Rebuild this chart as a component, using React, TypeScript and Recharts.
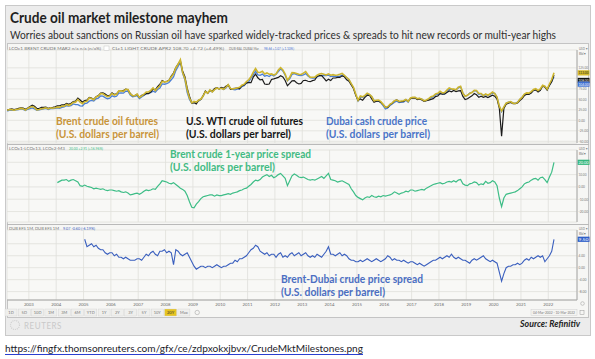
import { CartesianGrid, Line, LineChart, ReferenceLine, XAxis, YAxis } from "recharts";

// x axis: decimal years, monthly points placed mid-month
const X0 = 2002.2;
const X1 = 2023.05;
const YEARS = [2003, 2004, 2005, 2006, 2007, 2008, 2009, 2010, 2011, 2012, 2013, 2014, 2015, 2016, 2017, 2018, 2019, 2020, 2021, 2022];

// U.S. dollars per barrel, monthly from Mar 2002 to Mar 2022
const BRENT = [
  23.7, 25.7, 25.4, 24.1, 25.7, 26.7, 28.3, 27.5, 24.3, 28.2,
  31.2, 32.8, 30.3, 25.0, 25.8, 27.6, 28.4, 29.8, 27.1, 29.6, 28.8, 29.8,
  31.3, 30.9, 33.8, 33.4, 37.9, 35.2, 38.2, 42.7, 43.2, 49.8, 43.1, 39.6,
  44.3, 45.5, 53.1, 51.9, 49.0, 55.6, 57.9, 63.9, 63.2, 59.4, 56.2, 57.6,
  63.9, 60.1, 62.1, 70.3, 70.0, 68.9, 73.6, 73.2, 62.8, 58.7, 58.5, 62.3,
  54.3, 57.8, 62.1, 67.4, 67.5, 71.3, 77.2, 70.8, 77.1, 82.3, 92.5, 91.5,
  91.9, 94.8, 103.3, 110.4, 124.6, 133.5, 144.0, 113.9, 99.1, 72.8, 53.2, 41.6,
  44.9, 43.4, 47.7, 50.6, 57.9, 68.6, 64.9, 72.5, 67.7, 73.2, 77.0, 74.7,
  76.2, 73.8, 78.8, 84.8, 75.9, 74.8, 75.6, 77.1, 78.4, 83.5, 86.1, 92.4,
  96.5, 103.7, 114.6, 123.3, 114.5, 113.9, 116.7, 110.4, 112.8, 109.6, 110.5, 107.9,
  110.6, 119.7, 125.5, 119.8, 110.3, 95.2, 102.6, 113.4, 113.0, 111.5, 109.5, 109.2,
  112.3, 116.1, 108.5, 102.3, 102.6, 102.9, 107.4, 110.3, 111.2, 109.5, 107.8, 110.6,
  107.4, 108.8, 107.4, 107.8, 109.7, 111.9, 106.9, 101.9, 97.3, 87.3, 78.4, 62.3,
  47.8, 58.1, 55.9, 59.5, 64.6, 61.7, 56.5, 46.5, 47.6, 48.4, 44.3, 38.0,
  30.7, 32.2, 38.2, 41.6, 46.7, 48.3, 44.9, 45.8, 46.6, 49.5, 44.7, 53.3,
  54.6, 54.9, 51.6, 52.3, 50.3, 46.4, 48.5, 51.7, 56.2, 57.6, 62.7, 64.4,
  69.1, 65.3, 66.0, 72.1, 76.9, 74.4, 74.3, 72.5, 78.9, 81.0, 64.8, 57.4,
  59.4, 63.9, 66.1, 71.2, 71.1, 64.0, 63.9, 59.0, 62.8, 59.7, 63.2, 67.3,
  63.7, 55.5, 33.7, 22.0, 32.1, 40.8, 43.2, 44.7, 40.9, 40.2, 42.7, 49.9,
  54.8, 62.3, 65.4, 64.8, 68.5, 73.2, 75.1, 70.8, 74.5, 83.5, 81.1, 74.2,
  86.5, 97.1, 113.0,
];

const WTI = [
  24.4, 26.3, 27.0, 25.5, 26.9, 28.4, 29.7, 28.9, 26.3, 29.4,
  32.9, 35.9, 33.6, 28.3, 28.1, 30.7, 30.8, 31.6, 28.3, 30.3, 31.1, 32.2,
  34.3, 34.7, 36.7, 36.7, 40.3, 38.0, 40.7, 44.9, 45.9, 53.1, 48.5, 43.3,
  46.8, 48.0, 54.3, 53.0, 49.8, 56.3, 58.7, 65.0, 65.6, 62.4, 58.3, 59.4,
  65.5, 61.6, 62.9, 69.7, 70.9, 71.0, 74.4, 73.0, 63.8, 58.9, 59.1, 62.0,
  54.5, 59.3, 60.4, 63.9, 63.5, 67.5, 74.1, 72.4, 79.9, 85.8, 94.8, 91.7,
  93.0, 95.4, 105.5, 112.6, 125.4, 133.9, 142.0, 116.7, 104.1, 76.6, 57.3, 41.1,
  41.7, 39.1, 47.9, 49.6, 59.0, 69.6, 64.2, 71.1, 69.4, 75.7, 78.0, 74.5,
  78.3, 76.4, 81.2, 84.3, 73.7, 75.3, 76.3, 76.6, 75.2, 81.9, 84.3, 89.2,
  89.6, 89.6, 102.9, 110.0, 101.3, 96.3, 97.3, 86.3, 85.5, 86.3, 97.2, 98.6,
  100.3, 102.2, 106.2, 103.3, 94.7, 82.3, 87.9, 94.1, 94.5, 89.5, 86.5, 87.9,
  94.8, 95.3, 92.9, 92.0, 94.5, 95.8, 104.6, 106.6, 106.3, 100.5, 93.9, 97.6,
  94.6, 100.8, 100.8, 102.1, 102.2, 105.8, 103.6, 96.5, 93.2, 84.4, 75.8, 59.3,
  47.2, 50.6, 47.8, 54.5, 59.3, 59.8, 50.9, 42.9, 45.5, 46.2, 42.7, 37.2,
  31.7, 30.3, 37.5, 40.8, 46.7, 48.8, 44.7, 44.7, 45.2, 49.8, 45.7, 52.0,
  52.5, 53.5, 49.3, 51.1, 48.5, 45.2, 46.6, 48.0, 49.8, 51.6, 56.6, 57.9,
  63.7, 62.2, 62.7, 66.3, 70.0, 67.9, 71.0, 68.1, 70.2, 70.8, 57.0, 49.5,
  51.4, 55.0, 58.2, 63.9, 60.8, 54.7, 57.4, 54.8, 57.0, 54.0, 57.0, 59.9,
  57.5, 50.5, 29.2, -37.6, 28.5, 38.3, 40.7, 42.3, 39.6, 39.4, 41.4, 47.0,
  52.0, 59.0, 62.3, 61.7, 65.2, 71.4, 72.5, 67.7, 71.6, 81.5, 79.2, 71.7,
  83.2, 91.6, 108.0,
];

const DUBAI = [
  22.1, 24.0, 24.2, 23.5, 24.8, 25.5, 27.2, 25.9, 23.5, 26.3,
  28.0, 29.4, 27.0, 23.6, 24.6, 26.3, 27.1, 28.2, 25.5, 27.6, 27.6, 28.5,
  29.7, 28.8, 31.0, 31.8, 34.6, 34.0, 34.8, 39.0, 37.2, 37.5, 34.5, 34.0,
  40.0, 41.0, 45.6, 47.4, 45.8, 51.2, 53.0, 57.9, 57.5, 54.0, 51.4, 52.7,
  58.6, 56.0, 57.2, 64.8, 65.0, 64.6, 69.2, 69.4, 60.0, 56.2, 57.0, 58.9,
  51.9, 55.8, 59.0, 63.2, 65.0, 66.0, 69.5, 67.0, 73.2, 77.0, 86.7, 85.9,
  87.5, 90.0, 96.5, 103.4, 118.4, 128.0, 138.0, 111.8, 95.6, 66.3, 49.6, 40.5,
  43.9, 43.1, 45.6, 50.1, 57.5, 69.4, 64.9, 71.2, 67.7, 73.2, 76.6, 75.4,
  76.7, 73.5, 77.0, 83.7, 76.2, 73.9, 72.5, 74.2, 74.8, 80.4, 82.5, 88.4,
  92.0, 100.2, 108.7, 117.2, 108.1, 107.0, 110.1, 105.1, 106.9, 104.3, 108.4, 105.5,
  109.4, 116.2, 122.5, 117.3, 107.5, 94.4, 99.0, 109.4, 111.4, 108.8, 106.9, 106.3,
  107.9, 111.1, 105.6, 101.6, 100.4, 100.3, 103.4, 106.0, 106.9, 106.2, 106.6, 107.7,
  104.0, 105.0, 104.4, 104.7, 104.7, 107.8, 105.5, 101.7, 96.6, 86.6, 76.4, 60.2,
  45.9, 55.8, 54.7, 57.6, 62.6, 61.3, 56.1, 47.8, 45.4, 46.1, 41.8, 35.2,
  26.9, 29.4, 35.2, 39.1, 43.2, 45.7, 42.5, 43.5, 43.3, 47.9, 43.2, 51.9,
  53.5, 54.5, 50.7, 52.0, 50.5, 46.1, 47.6, 50.2, 54.0, 55.6, 60.4, 61.5,
  66.2, 62.7, 62.7, 68.3, 74.3, 73.6, 73.1, 72.5, 77.2, 79.4, 65.6, 57.3,
  59.1, 65.1, 66.6, 70.7, 69.4, 61.7, 63.3, 59.2, 61.1, 59.4, 61.9, 64.9,
  64.3, 54.2, 33.6, 20.4, 30.5, 40.8, 43.2, 44.0, 41.5, 40.7, 43.4, 49.8,
  54.8, 60.7, 62.8, 62.7, 66.0, 71.6, 72.9, 69.5, 72.6, 81.7, 80.3, 73.2,
  83.5, 92.4, 104.0,
];

// Brent 1-year spread, monthly from Jan 2004
const BRENT_1Y = [
  3.5, 4.5, 5.5, 5.5, 6.0, 4.5, 5.5, 6.0, 5.0, 4.0, 1.0, 0.5,
  1.5, 0.5, 0.0, -0.5, -1.5, -1.0, -1.5, -2.0, -1.5, -2.5, -3.0, -2.5,
  -2.5, -3.0, -3.5, -3.0, -4.0, -4.5, -4.0, -5.0, -6.5, -6.0, -5.5, -5.0,
  -6.0, -5.0, -3.5, -2.5, -3.0, -2.5, -1.5, -2.0, 0.5, 2.5, 5.0, 4.5,
  4.0, 3.0, 2.5, 3.5, 2.0, 0.5, -1.0, -2.0, -3.5, -7.0, -12.0, -16.5,
  -17.0, -14.0, -12.0, -9.5, -8.0, -7.5, -7.0, -6.5, -6.5, -7.5, -6.5, -7.0,
  -7.0, -6.5, -6.0, -5.5, -6.0, -5.0, -4.5, -4.0, -3.0, -2.5, -1.5, -1.0,
  0.5, 2.0, 4.0, 5.5, 5.0, 6.0, 8.0, 9.0, 10.0, 8.5, 9.5, 7.5,
  8.5, 10.0, 11.0, 9.0, 7.0, 1.0, 5.0, 9.0, 10.5, 9.5, 8.0, 7.5,
  8.0, 7.0, 6.0, 5.5, 6.0, 5.5, 6.5, 7.5, 8.5, 7.0, 9.0, 11.0,
  6.0, 5.5, 5.0, 4.0, 4.5, 5.0, 4.0, 3.0, 2.0, -1.5, -4.0, -7.0,
  -8.5, -9.5, -10.5, -9.0, -8.0, -8.5, -7.0, -8.0, -8.5, -7.5, -8.0, -7.0,
  -7.5, -7.0, -6.5, -5.5, -4.0, -5.0, -6.0, -5.0, -4.5, -3.5, -4.0, -2.5,
  -2.5, -3.5, -3.0, -2.5, -2.0, -2.5, -1.0, 0.0, 1.0, 2.0, 2.5, 3.0,
  3.5, 2.5, 3.0, 4.0, 4.5, 4.0, 5.0, 4.0, 5.5, 6.0, 2.5, 1.5,
  1.0, 2.5, 3.0, 4.0, 3.5, 1.5, 2.5, 2.0, 4.5, 3.0, 3.5, 5.0,
  4.0, 1.0, -9.0, -16.0, -9.0, -6.0, -5.5, -5.0, -4.5, -4.0, -3.0, -1.5,
  0.0, 2.5, 3.5, 4.0, 5.5, 6.5, 7.0, 5.5, 7.5, 8.0, 6.0, 3.5,
  8.0, 12.0, 20.0,
];

// Brent-Dubai EFS, monthly from Jan 2005
const BRENT_DUBAI = [
  9.5, 7.0, 7.5, 8.0, 7.0, 7.5, 6.5, 6.0, 6.0, 5.0, 4.5, 5.0,
  5.0, 4.0, 4.5, 3.5, 3.5, 3.0, 3.5, 3.0, 2.5, 2.5, 2.5, 3.0,
  3.0, 2.5, 3.5, 4.5, 4.0, 5.0, 5.5, 4.5, 4.0, 5.5, 5.5, 6.0,
  5.0, 5.5, 5.0, 1.0, 6.0, 5.5, 4.5, 4.0, 4.5, 5.0, 3.5, 2.0,
  0.5, -0.5, 0.0, 0.5, 0.5, 0.0, 0.5, 0.5, 0.0, 0.5, 1.0, 0.5,
  0.0, 0.5, 0.5, 1.0, 1.5, 1.5, 2.5, 2.0, 3.0, 3.0, 3.5, 4.0,
  5.0, 6.0, 6.5, 7.5, 7.0, 5.5, 5.0, 4.5, 5.0, 4.0, 4.5, 4.5,
  3.5, 4.5, 5.0, 3.5, 4.0, 3.5, 4.5, 5.0, 4.0, 4.5, 5.0, 4.0,
  4.5, 5.0, 4.0, 3.5, 4.0, 3.5, 4.5, 4.0, 3.5, 4.5, 5.5, 7.0,
  4.5, 4.5, 4.0, 4.5, 5.0, 4.0, 4.5, 4.0, 3.0, 2.5, 2.5, 2.0,
  2.0, 2.5, 2.0, 2.5, 3.0, 2.5, 2.0, 2.5, 3.0, 2.5, 2.0, 2.5,
  3.0, 4.0, 3.5, 2.5, 3.0, 2.5, 2.5, 2.0, 2.5, 2.0, 1.5, 2.0,
  2.0, 1.5, 1.0, 1.5, 1.0, 0.5, 1.0, 1.5, 2.0, 2.5, 2.5, 3.0,
  3.5, 3.0, 3.5, 4.0, 3.5, 4.5, 3.5, 3.0, 3.5, 3.0, 2.5, 2.5,
  2.0, 1.5, 2.5, 3.0, 2.5, 3.0, 3.5, 4.0, 3.0, 2.5, 2.0, 2.5,
  2.0, 1.5, -1.5, -4.5, -2.0, 0.0, 0.5, 0.5, 1.0, 1.0, 1.5, 1.0,
  1.5, 2.5, 3.0, 2.5, 3.5, 3.0, 3.5, 4.0, 3.5, 4.0, 2.0, 3.0,
  4.0, 5.5, 9.5,
];

// gridlines at every tick; values under a last-price tag get no label
const PRICE_TICKS = [-50, -25, 0, 25, 50, 75, 100, 125];
const PRICE_HIDDEN = [100];
const SPREAD_TICKS = [-20, -10, 0, 10, 20];
const SPREAD_HIDDEN = [20];
const EFS_TICKS = [-8, -4, 0, 4, 8];
const EFS_HIDDEN = [8];
const BUTTONS = ["1D", "5D", "10D", "1M", "3M", "6M", "YTD", "1Y", "2Y", "3Y", "5Y", "10Y", "20Y", "Max"];

const C = {
  brent: "#cdb52e",
  wti: "#1c1c1c",
  dubai: "#4b7fd4",
  spread: "#3dbd86",
  efs: "#3a5fbe",
  brentText: "#c8943a",
  dubaiText: "#4a74c8",
  spreadText: "#42bb83",
  efsText: "#4b6ec2",
};

const monthT = (y: number, m: number, i: number) => y + (m - 1 + i + 0.5) / 12;

const priceRows = BRENT.map((b, i) => ({ t: monthT(2002, 3, i), brent: b, wti: WTI[i], dubai: DUBAI[i] }));
const spreadRows = BRENT_1Y.map((v, i) => ({ t: monthT(2004, 1, i), v }));
const efsRows = BRENT_DUBAI.map((v, i) => ({ t: monthT(2005, 1, i), v }));

const last = (a: number[]) => a[a.length - 1];
const FONT = "Lato, 'Open Sans', sans-serif";

function Tag({ viewBox, fill, color, text, dy = 0 }: any) {
  if (!viewBox) return null;
  const x = viewBox.x + viewBox.width + 0.5;
  const y = viewBox.y + dy;
  return (
    <g>
      <rect x={x} y={y - 2.6} width={12} height={5.2} fill={fill} />
      <text x={x + 1} y={y + 1.4} fontSize={3.8} fill={color} textLength={10} lengthAdjust="spacingAndGlyphs">
        {text}
      </text>
    </g>
  );
}

function EmptyTick() {
  return <g />;
}

function makeYTick(hidden: number[]) {
  return function YTick({ x, y, payload }: any) {
    const v = payload?.value as number;
    if (hidden.includes(v)) return <g />;
    const s = v.toFixed(2);
    return (
      <text x={x + 1.5} y={y + 1.3} fontSize={3.8} fill="#7a7a7a" textLength={s.length * 1.6} lengthAdjust="spacingAndGlyphs">
        {s}
      </text>
    );
  };
}

interface SeriesDef {
  key: string;
  color: string;
  width: number;
}

interface TagDef {
  value: number;
  fill: string;
  color: string;
  dy?: number;
}

function Panel({
  top,
  height,
  data,
  domain,
  ticks,
  hidden,
  series,
  tags,
  showX,
  mTop,
  mBottom,
}: {
  top: number;
  height: number;
  data: any[];
  domain: [number, number];
  ticks: number[];
  hidden: number[];
  series: SeriesDef[];
  tags: TagDef[];
  showX?: boolean;
  mTop: number;
  mBottom: number;
}) {
  return (
    <div style={{ position: "absolute", left: 7, top, width: 583, height }}>
      <LineChart
        width={583}
        height={height}
        data={data}
        margin={{ top: mTop, right: 0, bottom: mBottom, left: 0 }}
        style={{ fontFamily: FONT }}
      >
        <CartesianGrid stroke="#dfdfdb" strokeWidth={0.8} fill="#f8f8f6" />
        <XAxis
          type="number"
          dataKey="t"
          domain={[X0, X1]}
          ticks={YEARS}
          allowDataOverflow
          interval={0}
          height={showX ? 10 : 0}
          tick={showX ? { fontSize: 4.3, fill: "#6f6f6f" } : EmptyTick}
          tickLine={false}
          tickSize={0}
          tickMargin={3}
          axisLine={showX ? { stroke: "#a3a3a3" } : false}
        />
        <YAxis
          orientation="right"
          width={13}
          domain={domain}
          ticks={ticks}
          allowDataOverflow
          interval={0}
          tick={makeYTick(hidden)}
          tickLine={false}
          tickSize={0}
          tickMargin={0}
          axisLine={{ stroke: "#a8a8a8" }}
        />
        {series.map((s) => (
          <Line
            key={s.key}
            dataKey={s.key}
            type="linear"
            stroke={s.color}
            strokeWidth={s.width}
            dot={false}
            isAnimationActive={false}
          />
        ))}
        {tags.map((tg, i) => (
          <ReferenceLine
            key={i}
            y={tg.value}
            stroke="none"
            ifOverflow="visible"
            label={<Tag fill={tg.fill} color={tg.color} text={tg.value.toFixed(2)} dy={tg.dy ?? 0} />}
          />
        ))}
      </LineChart>
    </div>
  );
}

function Label({ x, y, w1, w2, l1, color }: { x: number; y: number; w1: number; w2: number; l1: string; color: string }) {
  return (
    <g fill={color} fontWeight={700} fontSize={11}>
      <text x={x} y={y} textLength={w1} lengthAdjust="spacingAndGlyphs">
        {l1}
      </text>
      <text x={x} y={y + 13} textLength={w2} lengthAdjust="spacingAndGlyphs">
        (U.S. dollars per barrel)
      </text>
    </g>
  );
}

export default function App() {
  return (
    <div style={{ position: "absolute", left: 0, top: 0, width: 595, height: 359, background: "#fff", fontFamily: FONT }}>
      {/* frame */}
      <div style={{ position: "absolute", left: 5, top: 5, width: 584, height: 329, background: "#ececec", border: "1px solid #c9c9c9" }} />
      <div style={{ position: "absolute", left: 7, top: 43, width: 582, height: 275, background: "#f6f6f4", border: "1px solid #c4c4c4", boxSizing: "border-box" }} />

      <Panel
        top={44}
        height={100}
        data={priceRows}
        domain={[-54, 167.4]}
        ticks={PRICE_TICKS}
        hidden={PRICE_HIDDEN}
        mTop={6}
        mBottom={1}
        series={[
          { key: "dubai", color: C.dubai, width: 1.3 },
          { key: "wti", color: C.wti, width: 1.2 },
          { key: "brent", color: C.brent, width: 1.6 },
        ]}
        tags={[
          { value: last(BRENT), fill: "#d7bb2a", color: "#222" },
          { value: last(WTI), fill: "#111", color: "#fff", dy: 5.5 },
          { value: last(DUBAI), fill: "#3f70d2", color: "#fff", dy: 7.5 },
        ]}
      />
      <Panel
        top={144}
        height={80}
        data={spreadRows}
        domain={[-28.5, 30]}
        ticks={SPREAD_TICKS}
        hidden={SPREAD_HIDDEN}
        mTop={6}
        mBottom={2}
        series={[{ key: "v", color: C.spread, width: 1.2 }]}
        tags={[{ value: last(BRENT_1Y), fill: "#35b77e", color: "#fff" }]}
      />
      <Panel
        top={224}
        height={86}
        data={efsRows}
        domain={[-10.8, 12.6]}
        ticks={EFS_TICKS}
        hidden={EFS_HIDDEN}
        showX
        mTop={6}
        mBottom={0}
        series={[{ key: "v", color: C.efs, width: 1.1 }]}
        tags={[{ value: last(BRENT_DUBAI), fill: "#2f5fc8", color: "#fff" }]}
      />

      <svg width={595} height={359} style={{ position: "absolute", left: 0, top: 0, pointerEvents: "none", fontFamily: FONT }}>
        {/* panel separators */}
        <line x1={7} x2={589} y1={144.5} y2={144.5} stroke="#b9b9b9" />
        <line x1={7} x2={589} y1={224.5} y2={224.5} stroke="#b9b9b9" />

        <text x={10} y={23} fontSize={14.5} fontWeight={700} fill="#1f1f1f" textLength={218} lengthAdjust="spacingAndGlyphs">
          Crude oil market milestone mayhem
        </text>
        <text x={10} y={39} fontSize={10.5} fill="#2f2f2f" textLength={546} lengthAdjust="spacingAndGlyphs">
          Worries about sanctions on Russian oil have sparked widely-tracked prices &amp; spreads to hit new records or multi-year highs
        </text>

        {/* panel headers */}
        <g fontSize={3.9} fill="#777">
          <text x={9} y={49.5} textLength={92} lengthAdjust="spacingAndGlyphs">LCOc1 BRENT CRUDE MAR2 n/a n/a (n/a%)</text>
          <rect x={104} y={46} width={5} height={4.5} fill="#fff" stroke="#bbb" strokeWidth={0.4} />
          <text x={112} y={49.5} textLength={112} lengthAdjust="spacingAndGlyphs">CLc1 LIGHT CRUDE APR2 108.70 +4.72 (+4.49%)</text>
          <text x={229} y={49.5} textLength={30} lengthAdjust="spacingAndGlyphs">DUB-BAL DUBAI Mar</text>
          <text x={264} y={49.5} fill="#4a74d4" textLength={30} lengthAdjust="spacingAndGlyphs">98.66 +1.07 (+1.10%)</text>
          <text x={9} y={150} textLength={56} lengthAdjust="spacingAndGlyphs">LCOc1-LCOc13, LCOc2-M3</text>
          <text x={69} y={150} fill="#3dbd86" textLength={34} lengthAdjust="spacingAndGlyphs">20.00 +2.91 (+16.96%)</text>
          <text x={9} y={230} textLength={50} lengthAdjust="spacingAndGlyphs">DUB EFS 1M, DUB EFS 1M</text>
          <text x={63} y={230} fill="#3a5fbe" textLength={32} lengthAdjust="spacingAndGlyphs">9.07 -0.60 (-6.19%)</text>
          <text x={579} y={49.5} textLength={8} lengthAdjust="spacingAndGlyphs">USD ▾</text>
          <text x={579} y={55} textLength={7} lengthAdjust="spacingAndGlyphs">Bbl ▾</text>
          <text x={579} y={149.5} textLength={8} lengthAdjust="spacingAndGlyphs">USD ▾</text>
          <text x={579} y={155} textLength={7} lengthAdjust="spacingAndGlyphs">Bbl ▾</text>
          <text x={579} y={229.5} textLength={8} lengthAdjust="spacingAndGlyphs">USD ▾</text>
          <text x={579} y={235} textLength={7} lengthAdjust="spacingAndGlyphs">Bbl ▾</text>
        </g>

        {/* series labels */}
        <Label x={56} y={125} w1={102} w2={103} l1="Brent crude oil futures" color={C.brentText} />
        <Label x={186} y={125} w1={117} w2={105} l1="U.S. WTI crude oil futures" color="#151515" />
        <Label x={326} y={125} w1={101} w2={104} l1="Dubai cash crude price" color={C.dubaiText} />
        <Label x={170} y={158} w1={141} w2={105} l1="Brent crude 1-year price spread" color={C.spreadText} />
        <Label x={281} y={283} w1={142} w2={104} l1="Brent-Dubai crude price spread" color={C.efsText} />

        {/* range buttons */}
        <g fontSize={4} fill="#777" textAnchor="middle">
          {BUTTONS.map((b, i) => {
            const cx = 11 + i * 13.3;
            const on = b === "20Y";
            return (
              <g key={b}>
                <rect x={cx - 6} y={309} width={12} height={7} fill={on ? "#e6c41f" : "#efefed"} stroke="#d0d0d0" strokeWidth={0.4} />
                <text x={cx} y={313.8} fill={on ? "#333" : "#777"}>{b}</text>
              </g>
            );
          })}
          <circle cx={11 + 14 * 13.3} cy={312.5} r={2.2} fill="none" stroke="#999" strokeWidth={0.5} />
          <circle cx={582.5} cy={303.5} r={1.8} fill="none" stroke="#999" strokeWidth={0.5} />
          <rect x={531} y={309.5} width={46} height={6} fill="#f4f4f2" stroke="#c8c8c8" strokeWidth={0.4} />
          <text x={554} y={313.8} textLength={42} lengthAdjust="spacingAndGlyphs">04-Mar-2002 - 10-Mar-2022</text>
          <rect x={580} y={310.5} width={4} height={4} fill="none" stroke="#999" strokeWidth={0.5} />
        </g>

        {/* footer */}
        <circle cx={15} cy={325} r={4.5} fill="none" stroke="#cfcfcf" strokeWidth={1.2} strokeDasharray="1 1" />
        <text x={24} y={328.5} fontSize={8.5} fill="#c9c9c9" letterSpacing={0.6} textLength={38} lengthAdjust="spacingAndGlyphs">
          REUTERS
        </text>
        <text x={580} y={327} fontSize={9} fontWeight={700} fontStyle="italic" fill="#222" textAnchor="end" textLength={60} lengthAdjust="spacingAndGlyphs">
          Source: Refinitiv
        </text>

        {/* link */}
        <text x={5} y={352} fontSize={10} fill="#1c1c2a" textLength={358} lengthAdjust="spacingAndGlyphs">
          https://fingfx.thomsonreuters.com/gfx/ce/zdpxokxjbvx/CrudeMktMilestones.png
        </text>
        <line x1={5} x2={363} y1={354.5} y2={354.5} stroke="#2a3fd0" strokeWidth={1} />
      </svg>
    </div>
  );
}
